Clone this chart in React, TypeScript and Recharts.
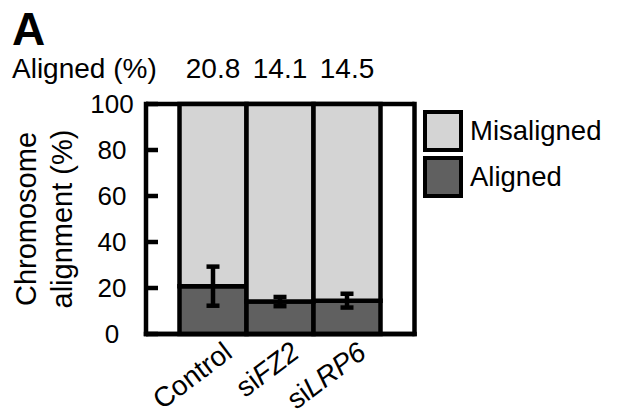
import React from 'react';
import { BarChart, Bar, XAxis, YAxis, ErrorBar, LabelList, Legend, CartesianGrid } from 'recharts';

const categories = ['Control', 'siFZ2', 'siLRP6'];
const labelPlain = ['Control', 'si', 'si'];
const labelItalic = ['', 'FZ2', 'LRP6'];
const alignedValues = [20.8, 14.1, 14.5];
const misalignedValues = [79.2, 85.9, 85.5];
const alignedErrors = [8.5, 2.0, 3.0];
const yTicks = [0, 20, 40, 60, 80, 100];
const frameValues = [0, 100];
const legendOrder = ['Misaligned', 'Aligned'];

const FONT = '"Liberation Sans", Arial, Helvetica, sans-serif';
const LIGHT = '#d4d4d4';
const DARK = '#606060';
const LINE = { stroke: '#000', strokeWidth: 4.5, strokeLinecap: 'square' as const };

const data = categories.map((name, i) => ({
  name,
  aligned: alignedValues[i],
  misaligned: misalignedValues[i],
  err: alignedErrors[i],
}));

const YTick = (props: any) => {
  const { x, y, payload } = props;
  return (
    <text x={x} y={y} dy="0.36em" textAnchor="middle" fontSize={26} fill="#000" fontFamily={FONT}>
      {payload.value}
    </text>
  );
};

const XTick = (props: any) => {
  const { x, y, payload } = props;
  const i = categories.indexOf(payload.value);
  return (
    <g transform={`translate(${x + 21},${y + 22})`}>
      <text transform="rotate(-37)" textAnchor="end" fontSize={28} fill="#000" fontFamily={FONT}>
        <tspan>{labelPlain[i]}</tspan>
        {labelItalic[i] ? <tspan fontStyle="italic">{labelItalic[i]}</tspan> : null}
      </text>
    </g>
  );
};

const YLabel = (props: any) => {
  const vb = props.viewBox || {};
  const cy = (vb.y || 0) + (vb.height || 0) / 2;
  const x0 = vb.x || 0;
  return (
    <g>
      <text transform={`translate(${x0 + 35.5},${cy}) rotate(-90)`} textAnchor="middle" fontSize={29} fill="#000" fontFamily={FONT}>
        Chromosome
      </text>
      <text transform={`translate(${x0 + 72},${cy}) rotate(-90)`} textAnchor="middle" fontSize={29} fill="#000" fontFamily={FONT}>
        alignment (%)
      </text>
    </g>
  );
};

const LegendContent = (props: any) => {
  const payload: any[] = props.payload || [];
  return (
    <div style={{ display: 'flex', flexDirection: 'column', gap: 4 }}>
      {legendOrder.map((name) => {
        const entry = payload.find((p) => p.value === name);
        const color = entry ? (entry.payload && entry.payload.fill) || entry.color : '#ccc';
        return (
          <div key={name} style={{ display: 'flex', alignItems: 'center', height: 42 }}>
            <div
              style={{
                width: 40,
                height: 42,
                boxSizing: 'border-box',
                border: '4.5px solid #000',
                background: color,
              }}
            />
            <span style={{ marginLeft: 7, fontSize: 27.5, fontFamily: FONT, color: '#000', lineHeight: '42px' }}>{name}</span>
          </div>
        );
      })}
    </div>
  );
};

export default function App() {
  return (
    <div style={{ position: 'absolute', left: 0, top: 0, width: 617, height: 418, background: '#fff', fontFamily: FONT }}>
      <div style={{ position: 'absolute', left: 12, top: 6, fontSize: 46, fontWeight: 'bold', lineHeight: 1, color: '#000' }}>A</div>
      <div style={{ position: 'absolute', left: 12, top: 55, fontSize: 28, lineHeight: 1, color: '#000' }}>Aligned (%)</div>
      <BarChart
        width={617}
        height={418}
        data={data}
        margin={{ top: 104, right: 192.5, bottom: 0, left: 0 }}
        barCategoryGap={0}
        barGap={0}
        style={{ fontFamily: FONT }}
      >
        <CartesianGrid
          vertical={false}
          horizontalValues={frameValues}
          stroke="#000"
          strokeWidth={4.5}
          strokeDasharray=""
        />
        <XAxis
          dataKey="name"
          xAxisId={0}
          height={84}
          padding={{ left: 33.5, right: 34 }}
          axisLine={LINE}
          tickLine={false}
          tickSize={0}
          tickMargin={0}
          interval={0}
          tick={<XTick />}
        />
        <XAxis
          dataKey="name"
          xAxisId="top"
          orientation="top"
          height={0}
          padding={{ left: 33.5, right: 34 }}
          axisLine={LINE}
          tickLine={false}
          tick={false}
        />
        <YAxis
          yAxisId={0}
          width={146}
          domain={[0, 100]}
          ticks={yTicks}
          axisLine={LINE}
          tickLine={{ stroke: '#000', strokeWidth: 4.5 }}
          tickSize={-12}
          tickMargin={46}
          tick={<YTick />}
          label={<YLabel />}
        />
        <YAxis
          yAxisId="r"
          orientation="right"
          width={10}
          domain={[0, 100]}
          ticks={yTicks}
          axisLine={LINE}
          tickLine={{ stroke: '#000', strokeWidth: 4.5 }}
          tickSize={-12}
          tick={false}
        />
        <Bar dataKey="aligned" name="Aligned" stackId="a" fill={DARK} stroke="#000" strokeWidth={4.5} isAnimationActive={false} />
        <Bar dataKey="misaligned" name="Misaligned" stackId="a" fill={LIGHT} stroke="#000" strokeWidth={4.5} isAnimationActive={false}>
          <LabelList
            dataKey="aligned"
            position="top"
            offset={26}
            fill="#000"
            fontSize={28}
            fontFamily={FONT}
            formatter={(v: any) => Number(v).toFixed(1)}
          />
        </Bar>
        <Bar
          dataKey="aligned"
          xAxisId="top"
          name="errors"
          legendType="none"
          fill="none"
          stroke="none"
          isAnimationActive={false}
        >
          <ErrorBar dataKey="err" width={6.5} stroke="#000" strokeWidth={4.5} />
        </Bar>
        <Legend
          layout="horizontal"
          verticalAlign="middle"
          align="center"
          content={<LegendContent />}
          wrapperStyle={{ left: 423, top: 110, width: 190 }}
        />
      </BarChart>
    </div>
  );
}
